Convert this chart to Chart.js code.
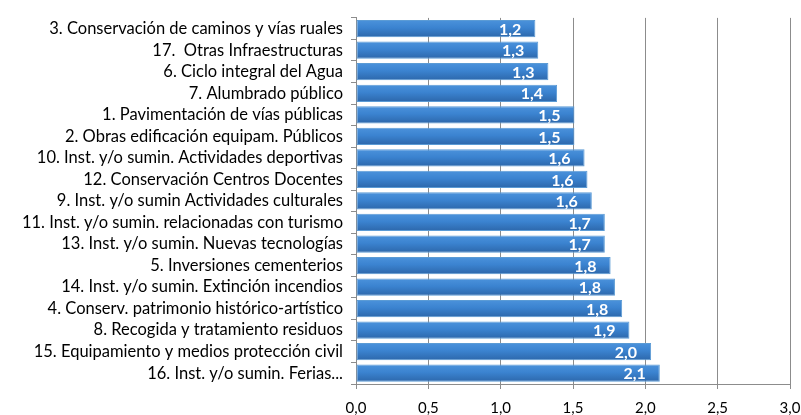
<!DOCTYPE html>
<html>
<head>
<meta charset="utf-8">
<script src="https://cdn.jsdelivr.net/npm/chart.js@4.4.1/dist/chart.umd.min.js"></script>
<style>
html,body{margin:0;padding:0;background:#fff;}
#wrap{width:801px;height:415px;position:relative;}
</style>
</head>
<body>
<div id="wrap"><canvas id="c" width="801" height="415"></canvas></div>
<script>
const categories = [
  "3. Conservación de caminos y vías ruales",
  "17.  Otras Infraestructuras",
  "6. Ciclo integral del Agua",
  "7. Alumbrado público",
  "1. Pavimentación de vías públicas",
  "2. Obras edificación equipam. Públicos",
  "10. Inst. y/o sumin. Actividades deportivas",
  "12. Conservación Centros Docentes",
  "9. Inst. y/o sumin Actividades culturales",
  "11. Inst. y/o sumin. relacionadas con turismo",
  "13. Inst. y/o sumin. Nuevas tecnologías",
  "5. Inversiones cementerios",
  "14. Inst. y/o sumin. Extinción incendios",
  "4. Conserv. patrimonio histórico-artístico",
  "8. Recogida y tratamiento residuos",
  "15. Equipamiento y medios protección civil",
  "16. Inst. y/o sumin. Ferias..."
];
const values = [1.24, 1.26, 1.33, 1.39, 1.51, 1.51, 1.58, 1.60, 1.63, 1.72, 1.72, 1.76, 1.79, 1.84, 1.89, 2.04, 2.10];
const xTicks = [0, 0.5, 1.0, 1.5, 2.0, 2.5, 3.0];

const FONT = "Lato, 'Open Sans', sans-serif";
const fmt = v => v.toFixed(1).replace('.', ',');

const valueLabels = {
  id: 'valueLabels',
  afterDatasetsDraw(chart) {
    const ctx = chart.ctx;
    const meta = chart.getDatasetMeta(0);
    ctx.save();
    ctx.fillStyle = '#ffffff';
    ctx.font = "bold 16px " + FONT;
    ctx.textAlign = 'right';
    ctx.textBaseline = 'middle';
    meta.data.forEach((bar, i) => {
      ctx.fillText(fmt(values[i]), bar.x - 14, bar.y + 1);
    });
    ctx.restore();
  }
};

new Chart(document.getElementById('c'), {
  type: 'bar',
  data: {
    labels: categories,
    datasets: [{
      data: values,
      backgroundColor(context) {
        const chart = context.chart;
        const y = chart.scales && chart.scales.y;
        if (!y || context.dataIndex === undefined) return '#3b82cf';
        const yc = y.getPixelForValue(context.dataIndex);
        if (!isFinite(yc)) return '#3b82cf';
        const g = chart.ctx.createLinearGradient(0, yc - 9, 0, yc + 9);
        g.addColorStop(0, '#4c93dc');
        g.addColorStop(0.45, '#3b83d0');
        g.addColorStop(1, '#2c66a9');
        return g;
      },
      borderColor: '#5b9bd5',
      borderWidth: 1,
      borderSkipped: false,
      barPercentage: 0.8,
      categoryPercentage: 1.0
    }]
  },
  options: {
    indexAxis: 'y',
    responsive: false,
    animation: false,
    layout: { padding: { top: 10, right: 0, left: 0, bottom: 0 } },
    plugins: { legend: { display: false }, tooltip: { enabled: false } },
    scales: {
      x: {
        min: 0, max: 3,
        afterBuildTicks(scale) { scale.ticks = xTicks.map(v => ({ value: v })); },
        afterFit(scale) { scale.height = 31; scale.paddingLeft = 0; scale.paddingRight = 11; },
        ticks: {
          color: '#000', font: { family: FONT, size: 15 }, padding: 10,
          callback: v => fmt(v), maxRotation: 0
        },
        grid: { color: '#8c8c8c', lineWidth: 1, tickLength: 5, drawTicks: true },
        border: { color: '#8c8c8c', width: 1 }
      },
      y: {
        afterFit(scale) { scale.width = 356; },
        ticks: { color: '#000', font: { family: FONT, size: 16.5 }, padding: 8, autoSkip: false },
        grid: { offset: true, drawOnChartArea: false, color: '#8c8c8c', tickLength: 5 },
        border: { color: '#8c8c8c', width: 1 }
      }
    }
  },
  plugins: [valueLabels]
});
</script>
</body>
</html>
